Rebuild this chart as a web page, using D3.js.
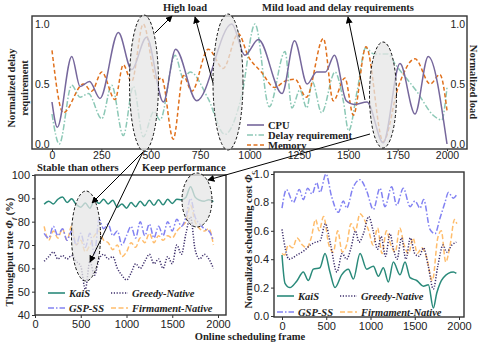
<!DOCTYPE html>
<html>
<head>
<meta charset="utf-8">
<script src="https://cdn.jsdelivr.net/npm/d3@7"></script>
<style>
  body { margin: 0; background: #fff; }
  text { fill: #222; }
  .tick-label { font-family: "Liberation Sans", Arial, sans-serif; font-size: 10px; }
  .lab { font-family: "Liberation Serif", "DejaVu Serif", serif; font-size: 10.5px; font-weight: bold; }
  .leg { font-family: "Liberation Serif", "DejaVu Serif", serif; font-size: 10.5px; font-weight: bold; font-style: italic; }
</style>
</head>
<body>
<svg id="chart" width="482" height="343"></svg>
<script>
// ---- top panel: normalized load / delay requirement ----
var cpuX = [0, 27, 100, 142, 190, 243, 336, 403, 479, 564, 626, 733, 910, 977, 1045, 1165, 1228, 1292, 1340, 1385, 1430, 1490, 1530, 1595, 1677, 1762, 1838, 1905, 2000];
var cpu = [0.35, 0.14, 0.73, 0.48, 0.52, 0.38, 0.93, 0.62, 0.89, 0.35, 0.79, 0.36, 1.0, 0.74, 0.87, 0.42, 0.86, 0.5, 0.6, 0.6, 0.74, 0.36, 0.33, 0.35, 0.01, 0.67, 0.25, 0.73, 0.0];
var delayX = [0, 37, 100, 142, 184, 252, 302, 361, 412, 462, 516, 547, 623, 665, 700, 790, 875, 960, 1028, 1100, 1180, 1215, 1255, 1290, 1318, 1365, 1433, 1475, 1502, 1545, 1588, 1630, 1700, 1740, 1846, 1930, 1973, 2000];
var delay = [0.25, 0.0, 0.49, 0.39, 0.42, 0.21, 0.49, 0.07, 0.48, 0.06, 0.27, 0.2, 0.74, 0.55, 0.6, 0.38, 0.08, 0.4, 1.0, 0.31, 0.77, 0.3, 0.45, 0.3, 0.52, 0.26, 0.6, 0.36, 0.11, 0.44, 0.8, 0.75, 0.75, 0.66, 0.44, 0.24, 0.2, 0.47];
var memX = [0, 57, 159, 201, 252, 319, 361, 403, 462, 530, 555, 614, 665, 708, 791, 867, 943, 994, 1060, 1128, 1175, 1230, 1288, 1374, 1424, 1483, 1526, 1590, 1677, 1754, 1838, 1915, 1964, 2000];
var memory = [0.78, 0.26, 0.5, 0.44, 0.6, 0.37, 0.66, 0.52, 1.0, 0.53, 0.55, 0.04, 0.57, 0.44, 0.79, 0.63, 0.92, 0.73, 0.6, 0.47, 0.52, 0.54, 0.39, 0.88, 0.36, 0.55, 0.24, 0.81, 0.02, 0.48, 0.71, 0.5, 0.58, 0.28];
var topTicksX = [0, 250, 500, 750, 1000, 1250, 1500, 1750, 2000];
var topTicksY = [0, 0.5, 1];

// ---- bottom-left: throughput rate ----
var frames = [100, 150, 200, 250, 300, 350, 400, 450, 500, 550, 600, 650, 700, 750, 800, 850, 900, 950, 1000, 1050, 1100, 1150, 1200, 1250, 1300, 1350, 1400, 1450, 1500, 1550, 1600, 1650, 1700, 1750, 1800, 1850, 1900, 1950];
var thrKais = [87.5, 88.8, 87.6, 89.6, 90.6, 88.2, 89.8, 87.4, 86.2, 88.0, 85.8, 89.2, 87.8, 89.6, 87.6, 89.2, 86.2, 87.6, 85.8, 88.2, 86.4, 88.8, 86.8, 89.2, 87.0, 89.4, 87.2, 89.6, 87.8, 89.6, 89.4, 90.5, 95.0, 90.5, 89.2, 88.8, 89.4, 88.6];
var thrGreedy = [63, 65, 67, 64, 65.5, 64, 65.5, 63, 61, 51, 63, 57, 64, 66, 64, 65, 60, 57, 55, 58, 62, 60, 63, 66, 62, 64, 60, 65, 62, 70, 66, 75, 82, 68, 64, 66, 64, 60];
var thrGsp = [75, 73, 78, 74, 77, 72, 76, 70, 75, 69, 75, 66, 81, 77, 79, 74, 76, 70, 74, 78, 73, 80, 74, 79, 73, 78, 74, 80, 76, 81, 78, 82, 90, 82, 79, 77, 76, 72];
var thrFirm = [78, 72, 76, 73, 77, 72, 78, 70, 72, 67, 70, 74, 76, 72, 71, 68, 70, 65, 67, 71, 69, 73, 71, 75, 71, 74, 72, 74, 73, 76, 78, 80, 87, 80, 77, 76, 77, 70];
var thrTicksY = [40, 50, 60, 70, 80, 90, 100];
var botTicksX = [0, 500, 1000, 1500, 2000];

// ---- bottom-right: normalized scheduling cost ----
var costKaisX = [0, 34, 90, 166, 241, 297, 354, 429, 486, 542, 599, 674, 750, 806, 882, 957, 1032, 1089, 1145, 1202, 1258, 1334, 1390, 1447, 1522, 1597, 1654, 1710, 1748, 1823, 1936, 1970];
var costKais = [0.43, 0.23, 0.20, 0.245, 0.31, 0.25, 0.33, 0.34, 0.44, 0.31, 0.20, 0.29, 0.33, 0.26, 0.44, 0.33, 0.35, 0.28, 0.34, 0.24, 0.38, 0.29, 0.38, 0.27, 0.25, 0.21, 0.22, 0.056, 0.16, 0.27, 0.31, 0.30];
var costGspX = [0, 50, 128, 196, 241, 290, 340, 392, 429, 497, 561, 636, 693, 731, 800, 882, 957, 1032, 1107, 1164, 1239, 1296, 1371, 1447, 1503, 1560, 1600, 1672, 1729, 1786, 1842, 1880, 1936, 1970];
var costGsp = [0.76, 0.89, 0.80, 0.89, 0.82, 0.90, 0.86, 0.94, 0.87, 1.0, 0.84, 0.73, 0.81, 0.76, 0.90, 0.96, 0.88, 0.75, 0.90, 0.77, 0.91, 0.78, 0.90, 0.77, 0.81, 0.76, 0.82, 0.61, 0.58, 0.69, 0.80, 0.87, 0.83, 0.85];
var costGreedyX = [0, 80, 170, 250, 320, 380, 430, 490, 550, 620, 680, 730, 780, 830, 870, 920, 980, 1030, 1080, 1120, 1170, 1220, 1260, 1300, 1350, 1400, 1450, 1500, 1550, 1600, 1650, 1710, 1760, 1820, 1860, 1920, 1970];
var costGreedy = [0.61, 0.40, 0.43, 0.46, 0.50, 0.52, 0.53, 0.65, 0.50, 0.31, 0.44, 0.40, 0.48, 0.60, 0.52, 0.58, 0.70, 0.60, 0.47, 0.56, 0.42, 0.58, 0.47, 0.40, 0.55, 0.40, 0.55, 0.44, 0.42, 0.48, 0.36, 0.19, 0.35, 0.50, 0.45, 0.50, 0.52];
var costFirmX = [0, 30, 70, 120, 170, 230, 280, 330, 380, 420, 470, 530, 580, 630, 680, 730, 780, 830, 880, 930, 980, 1030, 1080, 1130, 1180, 1230, 1280, 1330, 1380, 1430, 1480, 1530, 1580, 1630, 1700, 1760, 1800, 1850, 1900, 1950, 1975];
var costFirm = [0.44, 0.43, 0.50, 0.48, 0.55, 0.50, 0.48, 0.55, 0.68, 0.60, 0.70, 0.50, 0.45, 0.60, 0.45, 0.50, 0.65, 0.60, 0.72, 0.68, 0.60, 0.50, 0.62, 0.44, 0.60, 0.50, 0.45, 0.62, 0.50, 0.44, 0.55, 0.44, 0.48, 0.42, 0.25, 0.55, 0.60, 0.38, 0.50, 0.68, 0.65];
var costTicksY = [0, 0.2, 0.4, 0.6, 0.8, 1.0];

var svg = d3.select("#chart");
var col = {
    cpu: "#76679c", delay: "#8cc8b6", mem: "#e0701c",
    kais: "#2a8a7a", greedy: "#3b2c6a", gsp: "#8282f2", firm: "#ffbd6c"
};

svg.append("defs").append("marker")
    .attr("id", "arr")
    .attr("viewBox", "0 0 10 10")
    .attr("refX", 9).attr("refY", 5)
    .attr("markerWidth", 7).attr("markerHeight", 7)
    .attr("markerUnits", "userSpaceOnUse")
    .attr("orient", "auto")
    .append("path").attr("d", "M0,0 L10,5 L0,10 z").attr("fill", "#000");

function zip(xs, ys) {
    return xs.map(function (x, i) { return [x, ys[i]]; });
}

function drawLine(g, x, y, pts, color, dash, w) {
    g.append("path")
        .datum(pts)
        .attr("fill", "none")
        .attr("stroke", color)
        .attr("stroke-width", w || 1.5)
        .attr("stroke-dasharray", dash)
        .attr("d", d3.line().curve(d3.curveMonotoneX)
            .x(function (d) { return x(d[0]); })
            .y(function (d) { return y(d[1]); }));
}

function frame(x0, y0, x1, y1) {
    svg.append("rect").attr("x", x0).attr("y", y0)
        .attr("width", x1 - x0).attr("height", y1 - y0)
        .attr("fill", "none").attr("stroke", "#333").attr("stroke-width", 1.4);
}

function ellipse(cx, cy, rx, ry) {
    svg.append("ellipse").attr("cx", cx).attr("cy", cy).attr("rx", rx).attr("ry", ry)
        .attr("fill", "#e6e6e6").attr("fill-opacity", 0.75)
        .attr("stroke", "#111").attr("stroke-width", 1).attr("stroke-dasharray", "3,2");
}

function arrow(x1, y1, x2, y2) {
    svg.append("line").attr("x1", x1).attr("y1", y1).attr("x2", x2).attr("y2", y2)
        .attr("stroke", "#000").attr("stroke-width", 1).attr("marker-end", "url(#arr)");
}

function legendRow(x, y, color, dash, label, cls) {
    svg.append("line").attr("x1", x).attr("x2", x + 17).attr("y1", y).attr("y2", y)
        .attr("stroke", color).attr("stroke-width", 1.6).attr("stroke-dasharray", dash);
    svg.append("text").attr("class", cls).attr("x", x + 21).attr("y", y + 3.5).text(label);
}

function styleAxis(a, size) {
    a.select(".domain").remove();
    a.selectAll("line").attr("stroke", "#333");
    a.selectAll("text").attr("class", "tick-label").attr("fill", "#222").style("font-size", size);
}

// ===== top panel =====
var tx = d3.scaleLinear().domain([0, 2000]).range([52, 447]);
var ty = d3.scaleLinear().domain([0, 1]).range([144, 24]);
var gTop = svg.append("g");
drawLine(gTop, tx, ty, zip(delayX, delay), col.delay, "6,2,1.5,2");
drawLine(gTop, tx, ty, zip(memX, memory), col.mem, "4,2.5");
drawLine(gTop, tx, ty, zip(cpuX, cpu), col.cpu, null);
frame(32, 16, 467, 149);

svg.append("g").attr("transform", "translate(0,149)")
    .call(d3.axisBottom(tx).tickValues(topTicksX).tickFormat(d3.format("d")).tickSize(2).tickPadding(1))
    .call(function (a) { styleAxis(a, "10.5px"); });
topTicksY.forEach(function (v) {
    svg.append("text").attr("class", "tick-label").style("font-size", "10.5px")
        .attr("x", 35).attr("y", ty(v) + 4).text(d3.format(".1f")(v));
    svg.append("text").attr("class", "tick-label").style("font-size", "10.5px")
        .attr("x", 465).attr("y", ty(v) + 4)
        .attr("text-anchor", "end").text(d3.format(".1f")(v));
});
svg.append("text").attr("class", "lab").attr("transform", "translate(15,88) rotate(-90)")
    .attr("text-anchor", "middle").text("Normalized delay");
svg.append("text").attr("class", "lab").attr("transform", "translate(28,88) rotate(-90)")
    .attr("text-anchor", "middle").text("requirement");
svg.append("text").attr("class", "lab").attr("transform", "translate(470,82) rotate(90)")
    .attr("text-anchor", "middle").text("Normalized load");

legendRow(247, 125, col.cpu, null, "CPU", "lab");
legendRow(247, 135, col.delay, "6,2,1.5,2", "Delay requirement", "lab");
legendRow(247, 145, col.mem, "4,2.5", "Memory", "lab");

// ===== bottom-left panel =====
var lx = d3.scaleLinear().domain([0, 2000]).range([35, 218]);
var ly = d3.scaleLinear().domain([40, 100]).range([315, 175]);
var gL = svg.append("g");
drawLine(gL, lx, ly, zip(frames, thrFirm), col.firm, "5,2.5");
drawLine(gL, lx, ly, zip(frames, thrGsp), col.gsp, "6,2,1.5,2");
drawLine(gL, lx, ly, zip(frames, thrGreedy), col.greedy, "1.2,1.6");
drawLine(gL, lx, ly, zip(frames, thrKais), col.kais, null);
frame(35, 175, 226, 315);
svg.append("g").attr("transform", "translate(0,315)")
    .call(d3.axisBottom(lx).tickValues(botTicksX).tickFormat(d3.format("d")).tickSize(3).tickPadding(2))
    .call(function (a) { styleAxis(a, "11px"); });
svg.append("g").attr("transform", "translate(35,0)")
    .call(d3.axisLeft(ly).tickValues(thrTicksY).tickSize(3).tickPadding(2))
    .call(function (a) { styleAxis(a, "11px"); });
var tl = svg.append("text").attr("class", "lab").attr("transform", "translate(13,252) rotate(-90)")
    .attr("text-anchor", "middle");
tl.append("tspan").text("Throughput rate ");
tl.append("tspan").style("font-style", "italic").text("Φ");
tl.append("tspan").attr("dy", 3).style("font-size", "7px").style("font-style", "italic").text("f");
tl.append("tspan").attr("dy", -3).text(" (%)");

legendRow(48, 293, col.kais, null, "KaiS", "leg");
legendRow(111, 293, col.greedy, "1.2,1.6", "Greedy-Native", "leg");
legendRow(48, 308, col.gsp, "6,2,1.5,2", "GSP-SS", "leg");
legendRow(111, 308, col.firm, "5,2.5", "Firmament-Native", "leg");

// ===== bottom-right panel =====
var rx = d3.scaleLinear().domain([0, 2000]).range([282, 459]);
var ry = d3.scaleLinear().domain([0, 1]).range([316, 174]);
var gR = svg.append("g");
drawLine(gR, rx, ry, zip(costFirmX, costFirm), col.firm, "5,2.5");
drawLine(gR, rx, ry, zip(costGreedyX, costGreedy), col.greedy, "1.2,1.6");
drawLine(gR, rx, ry, zip(costGspX, costGsp), col.gsp, "6,2,1.5,2");
drawLine(gR, rx, ry, zip(costKaisX, costKais), col.kais, null);
frame(274, 172, 464, 317);
svg.append("g").attr("transform", "translate(0,317)")
    .call(d3.axisBottom(rx).tickValues(botTicksX).tickFormat(d3.format("d")).tickSize(3).tickPadding(2))
    .call(function (a) { styleAxis(a, "11px"); });
svg.append("g").attr("transform", "translate(274,0)")
    .call(d3.axisLeft(ry).tickValues(costTicksY).tickFormat(d3.format(".1f")).tickSize(3).tickPadding(2))
    .call(function (a) { styleAxis(a, "11px"); });
var rl = svg.append("text").attr("class", "lab").attr("transform", "translate(252,240) rotate(-90)")
    .attr("text-anchor", "middle");
rl.append("tspan").text("Normalized scheduling cost ");
rl.append("tspan").style("font-style", "italic").text("Φ");
rl.append("tspan").attr("dy", 3).style("font-size", "7px").style("font-style", "italic").text("c");

legendRow(277, 296, col.kais, null, "KaiS", "leg");
legendRow(340, 296, col.greedy, "1.2,1.6", "Greedy-Native", "leg");
legendRow(277, 312, col.gsp, "6,2,1.5,2", "GSP-SS", "leg");
legendRow(340, 312, col.firm, "5,2.5", "Firmament-Native", "leg");

svg.append("text").attr("class", "lab").attr("x", 250).attr("y", 340)
    .attr("text-anchor", "middle").text("Online scheduling frame");

// ===== highlight ellipses & annotations =====
ellipse(144, 83, 14.5, 68);
ellipse(228, 82, 15, 68);
ellipse(383, 95, 13.5, 53);
ellipse(86, 236, 14.5, 45);
ellipse(197, 200, 15, 27);

svg.append("text").attr("class", "lab").attr("x", 185).attr("y", 11).attr("text-anchor", "middle").text("High load");
svg.append("text").attr("class", "lab").attr("x", 338).attr("y", 11).attr("text-anchor", "middle").text("Mild load and delay requirements");
svg.append("text").attr("class", "lab").attr("x", 37).attr("y", 171).text("Stable than others");
svg.append("text").attr("class", "lab").attr("x", 142).attr("y", 171).text("Keep performance");

arrow(155, 33, 172, 16);
arrow(213, 83, 195, 17);
arrow(365, 100, 348, 17);
arrow(143, 152, 92, 203);
arrow(143, 152, 90, 262);
arrow(370, 134, 208, 180);
</script>
</body>
</html>
